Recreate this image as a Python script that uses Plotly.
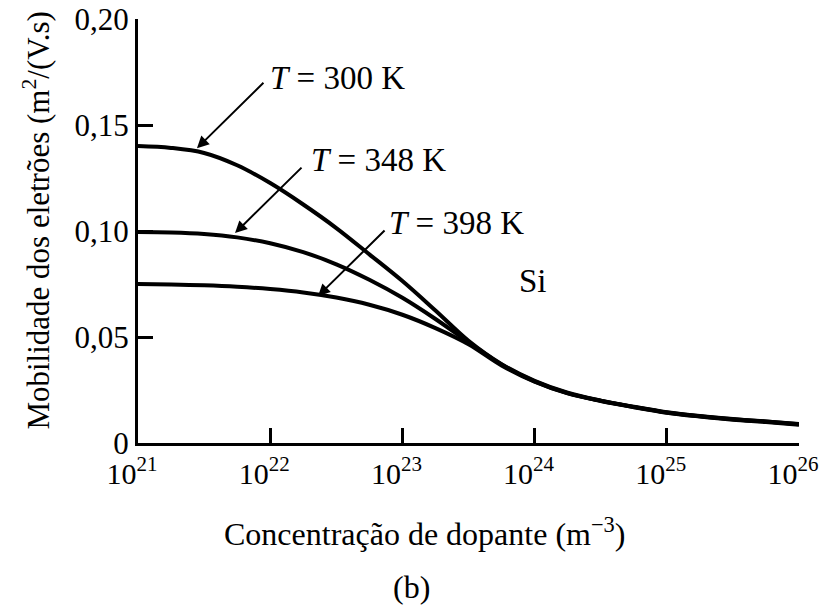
import plotly.graph_objects as go

# log10 of doping concentration (m^-3)
log_n = [21.0, 21.25, 21.5, 21.75, 22.0, 22.25, 22.5, 22.75, 23.0, 23.25, 23.5,
         23.75, 24.0, 24.25, 24.5, 24.75, 25.0, 25.25, 25.5, 25.75, 26.0]
conc = [10 ** v for v in log_n]

mu_300 = [0.1401, 0.1392, 0.1368, 0.1310, 0.1226, 0.1125, 0.1014, 0.0890, 0.0764, 0.0625, 0.0482,
          0.0372, 0.0293, 0.0237, 0.0200, 0.0171, 0.0145, 0.0127, 0.0113, 0.0102, 0.0090]
mu_348 = [0.0995, 0.0993, 0.0986, 0.0970, 0.0942, 0.0900, 0.0843, 0.0770, 0.0685, 0.0585, 0.0476,
          0.0370, 0.0291, 0.0235, 0.0199, 0.0170, 0.0144, 0.0126, 0.0112, 0.0101, 0.0088]
mu_398 = [0.0750, 0.0748, 0.0744, 0.0737, 0.0726, 0.0710, 0.0686, 0.0652, 0.0605, 0.0542, 0.0466,
          0.0366, 0.0289, 0.0234, 0.0198, 0.0169, 0.0143, 0.0125, 0.0110, 0.0099, 0.0086]

x_tickvals = [1e21, 1e22, 1e23, 1e24, 1e25, 1e26]
x_ticktext = ["10<sup>21</sup>", "10<sup>22</sup>", "10<sup>23</sup>",
              "10<sup>24</sup>", "10<sup>25</sup>", "10<sup>26</sup>"]
y_tickvals = [0, 0.05, 0.10, 0.15, 0.20]
y_ticktext = ["0", "0,05", "0,10", "0,15", "0,20"]

FONT = "Liberation Serif, Times New Roman, serif"
FS = 31
FS_LAB = 33

fig = go.Figure()
for mu in (mu_300, mu_348, mu_398):
    fig.add_trace(go.Scatter(x=conc, y=mu, mode="lines",
                             line=dict(color="black", width=4, shape="spline", smoothing=1.0),
                             showlegend=False, hoverinfo="skip"))

fig.update_layout(
    width=823, height=606,
    margin=dict(l=138, r=24, t=19, b=163, autoexpand=False),
    plot_bgcolor="white", paper_bgcolor="white",
    font=dict(family=FONT, size=FS, color="black"),
    showlegend=False,
)
fig.update_xaxes(type="log", range=[21, 26.00001], tickvals=x_tickvals, ticktext=x_ticktext,
                 ticks="inside", ticklen=15, tickwidth=3, tickcolor="black",
                 showline=True, linecolor="black", linewidth=3, showgrid=False,
                 zeroline=False, tickfont=dict(family=FONT, size=30),
                 ticklabeloverflow="allow", automargin=False,
                 ticklabelshift=-6, ticklabelstandoff=2)
fig.update_yaxes(range=[0, 0.20], tickvals=y_tickvals, ticktext=y_ticktext,
                 ticks="inside", ticklen=15, tickwidth=3, tickcolor="black",
                 showline=True, linecolor="black", linewidth=3, showgrid=False,
                 zeroline=False, tickfont=dict(family=FONT, size=31),
                 ticklabeloverflow="allow", automargin=False)

# arrows (tip on curve, tail toward label)
arrows = [(21.446, 0.1390), (21.734, 0.0990), (22.362, 0.0693)]
for (ax_, ay_) in arrows:
    fig.add_annotation(x=ax_, y=ay_, xref="x", yref="y", text="", showarrow=True,
                       ax=68, ay=-67, arrowhead=2, arrowsize=1.2, arrowwidth=2,
                       arrowcolor="black")

labels = [(21.985, 0.1722, "<i>T</i> = 300 K"),
          (22.29, 0.1334, "<i>T</i> = 348 K"),
          (22.88, 0.1037, "<i>T</i> = 398 K")]
for (lx, ly, txt) in labels:
    fig.add_annotation(x=lx, y=ly, xref="x", yref="y", text=txt, showarrow=False,
                       xanchor="left", yanchor="middle", font=dict(family=FONT, size=FS_LAB))

fig.add_annotation(x=23.87, y=0.0765, xref="x", yref="y", text="Si", showarrow=False,
                   xanchor="left", yanchor="middle", font=dict(family=FONT, size=FS_LAB))

fig.add_annotation(x=0.434, y=-0.21, xref="paper", yref="paper",
                   text="Concentração de dopante (m<sup>\u22123</sup>)", showarrow=False,
                   xanchor="center", yanchor="middle", font=dict(family=FONT, size=32))
fig.add_annotation(x=0.4145, y=-0.34, xref="paper", yref="paper", text="(b)",
                   showarrow=False, xanchor="center", yanchor="middle",
                   font=dict(family=FONT, size=32))
fig.add_annotation(x=-0.154, y=0.525, xref="paper", yref="paper",
                   text="Mobilidade dos eletrões (m<sup>2</sup>/(V.s)", textangle=-90,
                   showarrow=False, xanchor="center", yanchor="middle",
                   font=dict(family=FONT, size=31))

fig.write_html("out.html")
